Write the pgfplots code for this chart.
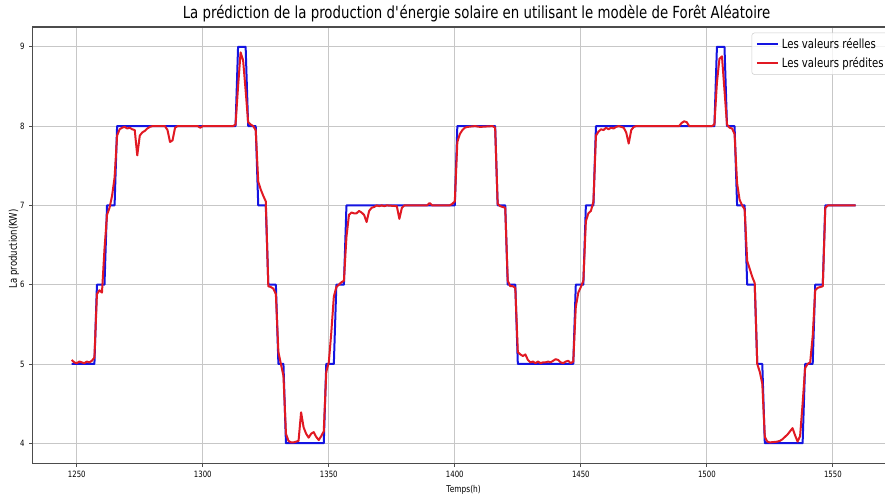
\documentclass[border=0pt]{standalone}
\usepackage{fontspec}
\setmainfont{DejaVu Sans}[FakeStretch=0.8]
\usepackage{pgfplots}
\pgfplotsset{compat=1.18}
\definecolor{reel}{RGB}{20,20,225}
\definecolor{pred}{RGB}{225,25,35}

\begin{document}
\begin{tikzpicture}
\begin{axis}[
  name=ax,
  scale only axis,
  width=646.4pt, height=327pt,
  xmin=1232.5, xmax=1574.5,
  ymin=3.75, ymax=9.25,
  xtick={1250,1300,...,1550},
  ytick={4,5,...,9},
  grid=major,
  grid style={line width=0.6pt, draw=black!22},
  axis line style={black!70, line width=0.8pt},
  tick style={black!70, line width=0.6pt},
  tick align=outside,
  major tick length=2.6pt,
  tick pos=left,
  ticklabel style={font=\fontsize{6.5}{7}\selectfont},
  /pgf/number format/assume math mode=true,
  /pgf/number format/1000 sep={},
  every axis title shift=0pt,
  title={La prédiction de la production d\textquotesingle énergie solaire en utilisant le modèle de Forêt Aléatoire},
  title style={at={(axis description cs:0.515,1.0298)}, anchor=center, font=\fontsize{12.5}{14}\selectfont},
  xlabel={Temps(h)},
  xlabel style={at={(axis description cs:0.5,-0.062)}, anchor=center, font=\fontsize{7}{8}\selectfont},
  ylabel={La production(KW)},
  ylabel style={at={(axis description cs:-0.0217,0.491)}, anchor=center, font=\fontsize{8}{9}\selectfont},
  legend style={at={(axis description cs:0.834,0.987)}, anchor=north west,
    font=\fontsize{9.5}{11}\selectfont, draw=black!20, rounded corners=2pt,
    fill=white, fill opacity=0.8, text opacity=1, row sep=1pt},
  legend cell align=left,
  legend image code/.code={\draw[#1, line width=1.5pt] (0pt,0pt) -- (16pt,0pt);},
]
% valeurs réelles (paliers horaires)
\addplot[reel, line width=1.5pt, line join=round] coordinates {
(1248,5)(1257,5)(1258,6)(1261,6)(1262,7)(1265,7)(1266,8)(1313,8)(1314,9)(1317,9)
(1318,8)(1321,8)(1322,7)(1325,7)(1326,6)(1329,6)(1330,5)(1332,5)(1333,4)(1348,4)
(1349,5)(1352,5)(1353,6)(1356,6)(1357,7)(1400,7)(1401,8)(1416,8)(1417,7)(1420,7)
(1421,6)(1424,6)(1425,5)(1447,5)(1448,6)(1451,6)(1452,7)(1455,7)(1456,8)(1503,8)
(1504,9)(1507,9)(1508,8)(1511,8)(1512,7)(1515,7)(1516,6)(1519,6)(1520,5)(1522,5)
(1523,4)(1538,4)(1539,5)(1542,5)(1543,6)(1546,6)(1547,7)(1559,7)
};
\addlegendentry{Les valeurs réelles}
% valeurs prédites
\addplot[pred, line width=1.5pt, line join=round] coordinates {
(1248,5.05)(1249,5.02)(1250,5.01)(1251,5.03)(1252,5.02)(1253,5.01)(1254,5.03)(1255,5.02)
(1256,5.04)(1257,5.08)(1258,5.88)(1259,5.93)(1260,5.90)(1261,6.45)(1262,6.88)(1263,6.97)
(1264,7.12)(1265,7.35)(1266,7.88)(1267,7.96)(1268,7.98)(1269,7.99)(1270,7.97)(1271,7.98)
(1272,7.96)(1273,7.95)(1274,7.63)(1275,7.88)(1276,7.92)(1277,7.94)(1278,7.97)(1279,7.99)
(1280,8.0)(1285,8.0)(1286,7.95)(1287,7.80)(1288,7.82)(1289,7.98)(1290,8.0)(1298,8.0)
(1299,7.98)(1300,8.0)(1312,8.0)(1313,8.02)(1314,8.5)(1315,8.93)(1316,8.83)(1317,8.45)
(1318,8.05)(1319,8.02)(1320,8.0)(1321,7.95)(1322,7.3)(1323,7.2)(1324,7.12)(1325,7.05)
(1326,5.98)(1327,5.97)(1328,5.95)(1329,5.88)(1330,5.15)(1331,5.0)(1332,4.85)(1333,4.12)
(1334,4.03)(1335,4.01)(1336,4.01)(1337,4.02)(1338,4.03)(1339,4.39)(1340,4.2)(1341,4.12)
(1342,4.07)(1343,4.12)(1344,4.14)(1345,4.08)(1346,4.04)(1347,4.09)(1348,4.15)(1349,4.9)
(1350,5.02)(1351,5.4)(1352,5.85)(1353,5.97)(1354,6.0)(1355,6.03)(1356,6.05)(1357,6.6)
(1358,6.88)(1359,6.91)(1360,6.9)(1361,6.9)(1362,6.93)(1363,6.91)(1364,6.88)(1365,6.79)
(1366,6.93)(1367,6.97)(1368,6.98)(1369,7.0)(1370,6.99)(1371,7.0)(1372,6.99)(1373,7.0)
(1377,6.99)(1378,6.83)(1379,6.97)(1380,7.0)(1389,7.0)(1390,7.03)(1391,7.0)(1398,7.0)
(1399,7.02)(1400,7.05)(1401,7.8)(1402,7.9)(1403,7.95)(1404,7.98)(1405,7.99)(1408,8.0)
(1410,7.99)(1415,8.0)(1416,7.98)(1417,7.02)(1418,6.99)(1419,6.98)(1420,6.97)(1421,6.05)
(1422,5.98)(1423,5.98)(1424,5.96)(1425,5.15)(1426,5.12)(1427,5.1)(1428,5.12)(1429,5.05)
(1430,5.02)(1431,5.03)(1432,5.01)(1433,5.03)(1434,5.01)(1435,5.02)(1436,5.02)(1437,5.03)
(1438,5.02)(1439,5.04)(1440,5.06)(1441,5.05)(1442,5.02)(1443,5.01)(1444,5.03)(1445,5.04)
(1446,5.01)(1447,5.03)(1448,5.72)(1449,5.9)(1450,5.97)(1451,6.05)(1452,6.8)(1453,6.9)
(1454,6.93)(1455,7.05)(1456,7.88)(1457,7.93)(1458,7.96)(1459,7.95)(1460,7.98)(1461,7.96)
(1462,7.98)(1463,7.97)(1464,7.99)(1465,8.0)(1467,7.98)(1468,7.92)(1469,7.78)(1470,7.95)
(1471,7.99)(1472,8.0)(1489,8.0)(1490,8.04)(1491,8.06)(1492,8.05)(1493,8.0)(1502,8.0)
(1503,8.02)(1504,8.55)(1505,8.85)(1506,8.88)(1507,8.45)(1508,8.02)(1509,7.98)(1510,7.97)
(1511,7.9)(1512,7.28)(1513,7.07)(1514,7.0)(1515,6.95)(1516,6.3)(1517,6.2)(1518,6.1)
(1519,6.02)(1520,5.0)(1521,4.9)(1522,4.75)(1523,4.08)(1524,4.02)(1525,4.01)(1528,4.02)
(1529,4.03)(1530,4.05)(1531,4.08)(1532,4.11)(1533,4.15)(1534,4.19)(1535,4.1)(1536,4.02)
(1537,4.09)(1538,4.5)(1539,4.95)(1540,5.0)(1541,5.02)(1542,5.35)(1543,5.93)(1544,5.96)
(1545,5.97)(1546,5.98)(1547,6.97)(1548,7.0)(1559,7.0)
};
\addlegendentry{Les valeurs prédites}
\end{axis}
\pgfresetboundingbox
\path[use as bounding box] (-24.5pt,-25.5pt) rectangle (639.2pt,347.25pt);
\end{tikzpicture}
\end{document}
